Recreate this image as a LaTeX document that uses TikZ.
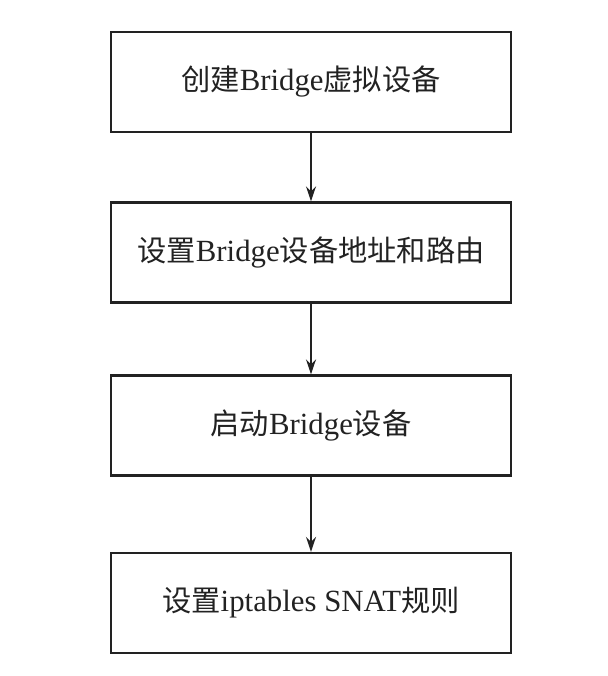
\documentclass[tikz,border=0pt]{standalone}
\usepackage{fontspec}
\setmainfont{Liberation Serif}
\newfontfamily\cjk{Noto Sans CJK SC}[Scale=0.95]
\usetikzlibrary{arrows.meta}
\definecolor{ink}{HTML}{222222}
\tikzset{
  stepbox/.style={draw=ink, line width=2.2pt, minimum width=400pt, minimum height=100pt, inner sep=0pt,
    font=\fontsize{30.8}{36}\selectfont, text=ink},
  flow/.style={draw=ink, line width=1.8pt, -{Stealth[length=15pt,width=10pt]}}
}
\begin{document}
\begin{tikzpicture}[x=1pt,y=1pt]
\useasboundingbox (0,0) rectangle (607,676);
\node[stepbox] (b1) at (311,594) {{\cjk 创建}Bridge{\cjk 虚拟设备}};
\node[stepbox] (b2) at (311,423.5) {{\cjk 设置}Bridge{\cjk 设备地址和路由}};
\node[stepbox] (b3) at (311,250.5) {{\cjk 启动}Bridge{\cjk 设备}};
\node[stepbox] (b4) at (311,73) {{\cjk 设置}iptables SNAT{\cjk 规则}};
\draw[flow] (b1) -- (b2);
\draw[flow] (b2) -- (b3);
\draw[flow] (b3) -- (b4);
\end{tikzpicture}
\end{document}
